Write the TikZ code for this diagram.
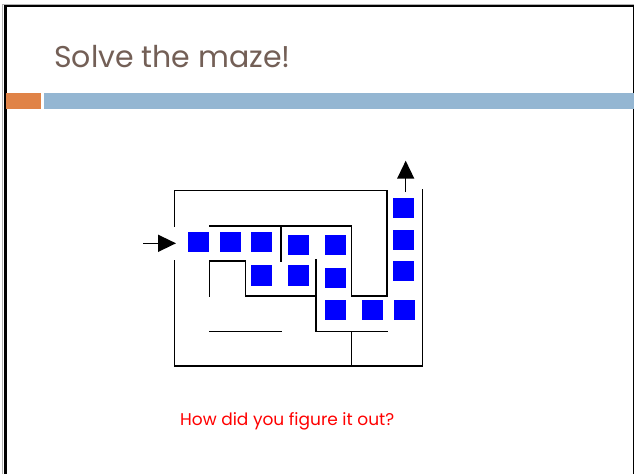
\documentclass[tikz,border=0pt]{standalone}
\usepackage{fontspec}
\setmainfont{Poppins}
\usepackage{tikz}
\usetikzlibrary{arrows.meta,positioning}
\definecolor{titlebrown}{HTML}{735F56}
\definecolor{barorange}{HTML}{E08347}
\definecolor{barblue}{HTML}{94B6D2}
\tikzset{
  wall/.style={line width=1.5pt,line cap=rect},
  stone/.style={fill=blue,draw=none,minimum size=20.7pt,inner sep=0pt},
  way/.style={line width=1.5pt,-{Triangle[length=18pt,width=17pt]}}
}
\begin{document}
\begin{tikzpicture}[x=1pt,y=-1pt]
    \useasboundingbox (0,0) rectangle (634,474);
    % slide frame
    \draw[gray!60,line width=1pt] (2.5,474) -- (2.5,4.5) -- (634,4.5);
    \draw[line width=3pt] (5,474) -- (5,6.2);
    \draw[line width=2pt] (4,6.2) -- (634,6.2);
    \draw[line width=1pt] (633.5,6) -- (633.5,474);

    % title and bars
    \node[anchor=base west,inner sep=0pt,text=titlebrown,font=\fontsize{30}{36}\selectfont] (title) at (54,67.7) {Solve the maze!};
    \fill[barorange] (6,92.7) rectangle (41,109);
    \fill[barblue] (44,92.7) rectangle (634,109);

    % maze walls
    \draw[wall] (174.7,226) -- (174.7,190.7) -- (387,190.7) -- (387,296) -- (351.3,296) -- (351.3,226) -- (209.3,226);
    \draw[wall] (174.7,260.7) -- (174.7,366) -- (422.7,366) -- (422.7,190);
    \draw[wall] (281,226) -- (281,261.7);
    \draw[wall] (209.3,296) -- (209.3,261) -- (245.7,261) -- (245.7,296) -- (316,296);
    \draw[wall] (316,260) -- (316,331.3) -- (387.3,331.3);
    \draw[wall] (351.3,331.3) -- (351.3,366);
    \draw[wall] (209.3,331.3) -- (281.7,331.3);

    % path through the maze
    \foreach \nm/\px/\py in {s1/198.7/242, s2/230.5/242, s3/261.5/242, s4/298.5/245, s5/335.7/245,
        s6/261.5/275.7, s7/298.5/275.7, s8/335.7/278,
        s9/335.7/310, s10/372.5/310, s11/404.5/310,
        s12/403.7/271, s13/403.7/240, s14/403.7/208}
        \node[stone] (\nm) at (\px,\py) {};

    % entry and exit arrows
    \coordinate (inA) at (143.3,243.3);
    \coordinate (inB) at (176,243.3);
    \coordinate (outA) at (405.7,192);
    \coordinate (outB) at (405.7,160.7);
    \draw[way] (inA) -- (inB);
    \draw[way] (outA) -- (outB);

    % question
    \node[anchor=base west,inner sep=0pt,text=red,font=\fontsize{17}{20}\selectfont] (ask) at (180,425.7) {How did you figure it out?};
\end{tikzpicture}
\end{document}
